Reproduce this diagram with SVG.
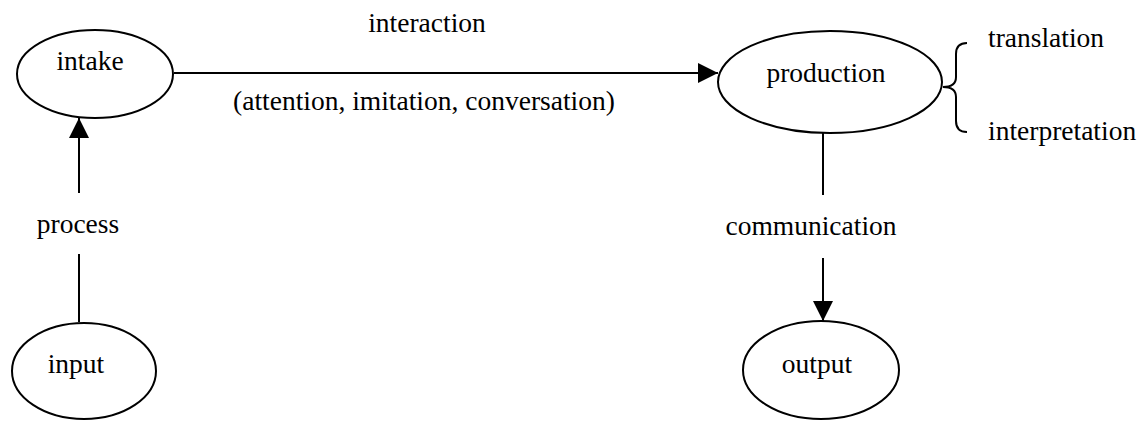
<svg xmlns="http://www.w3.org/2000/svg" width="1146" height="421" viewBox="0 0 1146 421">
<style>
.n{fill:#fff;stroke:#000;stroke-width:2}
.t{font-size:27.5px;fill:#000}
.c{text-anchor:middle}
.l{stroke:#000;stroke-width:2;fill:none}
</style>
<defs>
<marker id="ah" markerWidth="20" markerHeight="20" refX="20" refY="10" orient="auto" markerUnits="userSpaceOnUse">
<path d="M0,0 L20,10 L0,20 Z" fill="#000"/>
</marker>
</defs>
<rect width="1146" height="421" fill="#fff"/>
<g id="connectors" font-family="'Liberation Serif', 'Times New Roman', serif">
<line class="l" x1="174" y1="73" x2="718" y2="73" marker-end="url(#ah)"/>
<line class="l" x1="79" y1="322" x2="79" y2="254"/>
<line class="l" x1="79" y1="193" x2="79" y2="118" marker-end="url(#ah)"/>
<line class="l" x1="823" y1="133" x2="823" y2="195"/>
<line class="l" x1="823" y1="258" x2="823" y2="321" marker-end="url(#ah)"/>
<path class="l" d="M967,43 Q956,43 956,54 L956,77 Q956,87 943,87 Q956,87 956,97 L956,121 Q956,132 967,132"/>
<text class="t c" x="427" y="32">interaction</text>
<text class="t c" x="424" y="110">(attention, imitation, conversation)</text>
<text class="t c" x="78" y="233">process</text>
<text class="t c" x="811" y="235">communication</text>
</g>
<g id="intake" font-family="'Liberation Serif', 'Times New Roman', serif">
<ellipse class="n" cx="95" cy="74" rx="78" ry="44"/>
<text class="t c" x="90" y="70">intake</text>
</g>
<g id="input" font-family="'Liberation Serif', 'Times New Roman', serif">
<ellipse class="n" cx="84" cy="371" rx="72" ry="48"/>
<text class="t c" x="76" y="373">input</text>
</g>
<g id="production" font-family="'Liberation Serif', 'Times New Roman', serif">
<ellipse class="n" cx="830" cy="82" rx="112" ry="51"/>
<text class="t c" x="826" y="82">production</text>
</g>
<g id="output" font-family="'Liberation Serif', 'Times New Roman', serif">
<ellipse class="n" cx="821" cy="370" rx="78" ry="49"/>
<text class="t c" x="817" y="373">output</text>
</g>
<g id="translation" font-family="'Liberation Serif', 'Times New Roman', serif">
<text class="t" x="988" y="47">translation</text>
</g>
<g id="interpretation" font-family="'Liberation Serif', 'Times New Roman', serif">
<text class="t" x="988" y="140">interpretation</text>
</g>
</svg>
